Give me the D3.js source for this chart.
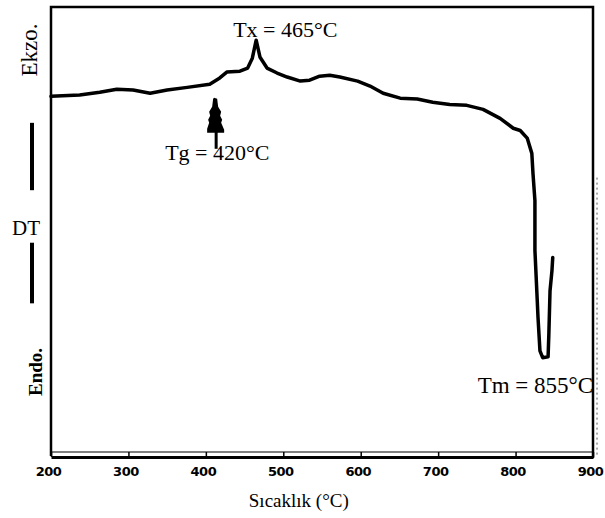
<!DOCTYPE html>
<html>
<head>
<meta charset="utf-8">
<script src="https://cdn.jsdelivr.net/npm/d3@7"></script>
<style>
  body { margin: 0; background: #fff; }
  svg { display: block; }
</style>
</head>
<body>
<div id="chart"></div>
<script>
// DTA curve, temperature (C) vs DT signal (arbitrary units, 0..100 full frame)
const temps = [200, 237, 263, 285, 306, 328, 350, 376, 405, 418, 427, 444, 454, 460, 465, 470, 479, 492, 505,
    522, 534, 547, 560, 573, 596, 612, 629, 651, 673, 693, 715, 737, 758, 780, 797, 806, 815, 821, 822.5,
    825, 825, 828, 829, 831.5, 835, 842, 843, 844.5, 847, 848];
const signal = [80.1, 80.4, 81.0, 81.7, 81.5, 80.8, 81.5, 82.1, 82.8, 84.2, 85.5, 85.7, 86.4, 88.6, 92.6, 88.8, 86.4, 85.3, 84.4,
    83.5, 83.7, 84.6, 84.8, 84.4, 83.5, 82.4, 80.8, 79.7, 79.5, 78.8, 78.3, 78.1, 77.2, 75.2, 73.0, 72.5, 70.8, 67.4, 62.9,
    56.9, 45.8, 34.6, 30.8, 23.4, 21.9, 22.1, 27.2, 36.8, 41.3, 44.2];
const xTicks = [200, 300, 400, 500, 600, 700, 800, 900];
const labels = { tx: "Tx = 465°C", tg: "Tg = 420°C", tm: "Tm = 855°C" };
const tgMark = 412;

const
    width = 605,
    height = 518,
    margin = { top: 7, right: 12, bottom: 62, left: 51 },
    serif = "'Liberation Serif', 'Times New Roman', serif",
    svg = d3.select("#chart").append("svg").attr("width", width).attr("height", height);

const x = d3.scaleLinear()
    .domain([200, 900])
    .range([margin.left, width - margin.right]);

const y = d3.scaleLinear()
    .domain([0, 100])
    .range([height - margin.bottom, margin.top]);

const data = temps.map((t, i) => ({ t: t, v: signal[i] }));

const line = d3.line()
    .x(d => x(d.t))
    .y(d => y(d.v))
    .curve(d3.curveLinear);

drawFrame();
drawAxis();
drawCurve();
drawLabels();

function drawFrame() {
    const x0 = x(200), x1 = x(900), y0 = y(0), y1 = y(100);
    // left, top, right border
    svg.append("path")
        .attr("d", `M${x0},${y0} L${x0},${y1} L${x1},${y1} L${x1},${y0 + 2}`)
        .attr("fill", "none")
        .attr("stroke", "#000")
        .attr("stroke-width", 2.5);
    // faint dotted edge right of the frame
    svg.append("line")
        .attr("x1", x1 + 4).attr("x2", x1 + 4)
        .attr("y1", y(62)).attr("y2", y0)
        .attr("stroke", "#555")
        .attr("stroke-width", 1)
        .attr("stroke-dasharray", "2,3");
}

function drawAxis() {
    const g = svg.append("g")
        .attr("transform", `translate(0,${y(0) + 1})`)
        .call(d3.axisBottom(x).tickValues(xTicks).tickSizeInner(-5).tickSizeOuter(0).tickPadding(10));

    g.select(".domain")
        .attr("stroke", "#000")
        .attr("stroke-width", 3);
    g.selectAll(".tick line")
        .attr("stroke", "#000")
        .attr("stroke-width", 1.5);
    g.selectAll(".tick text")
        .attr("fill", "#000")
        .attr("dx", -3)
        .style("font", "bold 13px 'DejaVu Sans', sans-serif")
        .style("letter-spacing", "-0.5px");

    // inner thin rule of the double base line
    svg.append("line")
        .attr("x1", x(200)).attr("x2", x(900))
        .attr("y1", y(0) - 4).attr("y2", y(0) - 4)
        .attr("stroke", "#000")
        .attr("stroke-width", 1.2);

    svg.append("text")
        .attr("x", x(520))
        .attr("y", 507)
        .attr("text-anchor", "middle")
        .style("font", `19px ${serif}`)
        .text("Sıcaklık (°C)");
}

function drawCurve() {
    svg.append("path")
        .datum(data)
        .attr("fill", "none")
        .attr("stroke", "#000")
        .attr("stroke-width", 3.5)
        .attr("stroke-linejoin", "round")
        .attr("stroke-linecap", "round")
        .attr("d", line);

    // Tg marker: stacked arrow head with a stem
    const cx = x(tgMark), top = y(80) + 1;
    const shape = [[-1, 0], [2, 1], [3, 9], [6, 14], [5, 18], [7, 22], [6, 25], [9, 32], [9, 35],
        [-8, 35], [-8, 31], [-6, 25], [-7, 22], [-5, 18], [-6, 14], [-3, 9], [-2, 1]];
    svg.append("path")
        .attr("d", d3.line()(shape.map(p => [cx + p[0], top + p[1]])) + "Z")
        .attr("fill", "#000");
    svg.append("line")
        .attr("x1", cx + 1).attr("x2", cx + 1)
        .attr("y1", top + 34).attr("y2", top + 51)
        .attr("stroke", "#000")
        .attr("stroke-width", 3);
}

function drawLabels() {
    svg.append("text")
        .attr("x", x(465) - 23)
        .attr("y", 37)
        .style("font", `22px ${serif}`)
        .text(labels.tx);

    svg.append("text")
        .attr("x", x(tgMark) - 50)
        .attr("y", 160)
        .style("font", `22px ${serif}`)
        .text(labels.tg);

    svg.append("text")
        .attr("x", x(835) - 65)
        .attr("y", 393)
        .style("font", `23px ${serif}`)
        .text(labels.tm);

    // left-hand DT legend
    svg.append("text")
        .attr("transform", "translate(37,50) rotate(-90)")
        .attr("text-anchor", "middle")
        .style("font", `23px ${serif}`)
        .text("Ekzo.");

    svg.append("text")
        .attr("x", 12)
        .attr("y", 235)
        .style("font", `21px ${serif}`)
        .text("DT");

    svg.append("text")
        .attr("transform", "translate(42,372) rotate(-90)")
        .attr("text-anchor", "middle")
        .style("font", `bold 19px ${serif}`)
        .text("Endo.");

    [[y(74.2), y(59.2)], [y(47.5), y(34)]].forEach(s => {
        svg.append("line")
            .attr("x1", 32).attr("x2", 32)
            .attr("y1", s[0]).attr("y2", s[1])
            .attr("stroke", "#000")
            .attr("stroke-width", 4);
    });
}
</script>
</body>
</html>
